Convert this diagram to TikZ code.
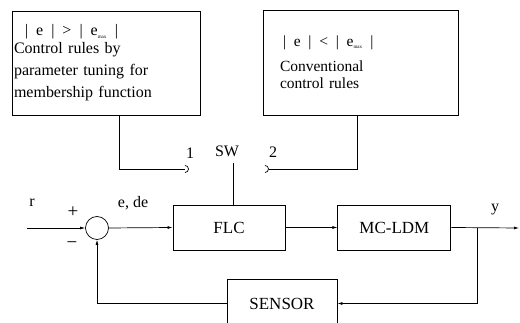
\documentclass[tikz,border=0pt]{standalone}
\usepackage{fontspec}
\setmainfont{Liberation Serif}
\usepackage{tikz}
\usetikzlibrary{arrows.meta,positioning,calc}

\begin{document}
\begin{tikzpicture}[x=1pt,y=1pt,font=\fontsize{16}{22}\selectfont,line width=0.7pt,
  blk/.style={draw,line width=0.9pt,minimum width=112pt,minimum height=45pt,inner sep=0pt,font=\fontsize{17}{20}\selectfont},
  rulebox/.style={draw,line width=0.9pt,align=left,inner ysep=0pt},
  arr/.style={-{Latex[length=5pt,width=3pt]}}]
\useasboundingbox (0,0) rectangle (520,323);
% rule blocks
\node[rulebox,minimum width=188pt,minimum height=104pt,text width=184pt,inner xsep=2pt] (rule1) at (106,260)
  {\hspace{11pt}|\enspace e\enspace|\enspace >\enspace|\enspace e\textsubscript{\tiny max}\enspace|\\[-4pt]
   Control rules by\\parameter tuning for\\membership function};
\node[rulebox,minimum width=195pt,minimum height=105pt,text width=161pt,inner xsep=17pt,font=\fontsize{15.5}{17}\selectfont] (rule2) at (360.5,260.5)
  {\hspace{3pt}|\enspace e\enspace|\enspace <\enspace|\enspace e\textsubscript{\tiny max}\enspace|\\[8pt]
   Conventional\\control rules\\[-4pt]};
% switch
\coordinate (c1) at (185,154);
\coordinate (c2) at (265,154);
\coordinate (sw) at (233,160);
\node (n1) at (190,170) {1};
\node (swl) at (227,172) {SW};
\node (n2) at (273,171) {2};
\draw ([xshift=13pt]rule1.south) |- (c1);
\draw ([yshift=3.5pt]c1) arc[start angle=90,end angle=-90,radius=3.5pt];
\draw ([yshift=3.5pt]c2) arc[start angle=90,end angle=-90,radius=3.5pt];
\draw ([xshift=-3.5pt]rule2.south) |- ([xshift=3.5pt]c2);
% loop
\node[blk] (flc) at (229,95.5) {FLC};
\node[blk,minimum width=113pt,right=52pt of flc] (mcldm) {MC-LDM};
\node[blk,minimum width=110pt,minimum height=48pt] (sensor) at (282,19.5) {SENSOR};
\node[draw,circle,minimum size=23pt,inner sep=0pt] (sum) at (97,95) {};
\coordinate (rin) at (27,95);
\coordinate (yout) at (519,95);
\coordinate (br) at (477,95);
\draw (sw) -- (sw |- flc.north);
\draw[arr] (rin) -- (sum.west);
\draw[arr] (sum.east) -- (flc.west);
\draw[arr] (flc.east) -- (mcldm.west);
\draw[arr] (mcldm.east) -- (yout);
\draw[arr] (br) |- (sensor.east);
\draw[arr] (sensor.west) -| (sum.south);
\node (r) at (32,120) {r};
\node[font=\fontsize{19}{20}\selectfont] (plus) at (73,111) {+};
\node[font=\fontsize{19}{20}\selectfont] (minus) at (72,78) {−};
\node (ede) at (133,120) {e, de};
\node (y) at (495,113) {y};
\end{tikzpicture}
\end{document}
